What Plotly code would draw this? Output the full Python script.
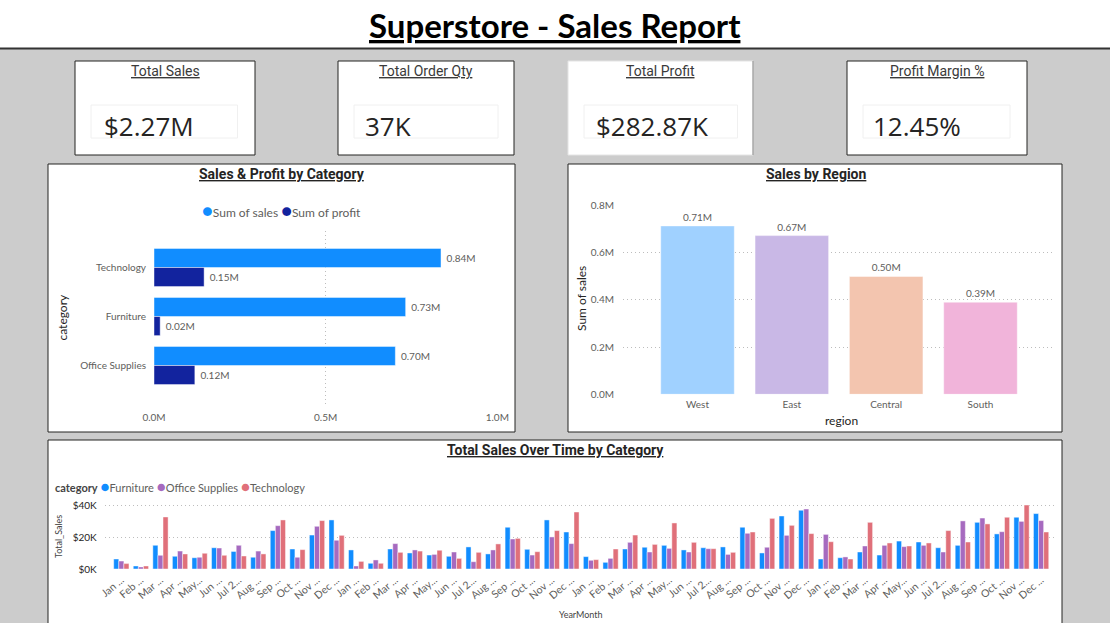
import plotly.graph_objects as go

W, H = 1110, 623

# ---------------- data ----------------
kpi_titles = ["Total Sales", "Total Order Qty", "Total Profit", "Profit Margin %"]
kpi_values = ["$2.27M", "37K", "$282.87K", "12.45%"]

categories = ["Technology", "Furniture", "Office Supplies"]
cat_sales = [836000, 733000, 703000]
cat_profit = [146000, 18000, 119000]

regions = ["West", "East", "Central", "South"]
region_sales = [713000, 672000, 499000, 390000]

cat_xticks = [0, 500000, 1000000]
cat_xticktext = ["0.0M", "0.5M", "1.0M"]
reg_yticks = [0, 200000, 400000, 600000, 800000]
reg_yticktext = ["0.0M", "0.2M", "0.4M", "0.6M", "0.8M"]

months = ["Jan", "Feb", "Mar", "Apr", "May", "Jun", "Jul", "Aug", "Sep", "Oct", "Nov", "Dec"]
month_ticks = ["Jan ...", "Feb ...", "Mar ...", "Apr ...", "May...", "Jun ...",
               "Jul 2...", "Aug ...", "Sep ...", "Oct ...", "Nov ...", "Dec ..."]
years = [2014, 2015, 2016, 2017]

# monthly sales in $K
furniture_k = [6.3, 1.9, 14.9, 8.0, 7.1, 13.4, 11.1, 7.4, 24.2, 12.6, 21.4, 30.9,
               12.0, 3.6, 12.6, 10.1, 8.8, 8.0, 13.9, 9.5, 26.3, 12.4, 30.9, 23.3,
               7.8, 4.2, 12.6, 13.7, 14.9, 12.0, 13.4, 13.9, 26.3, 10.1, 33.4, 37.0,
               6.3, 7.1, 10.7, 8.8, 17.6, 17.0, 13.4, 14.9, 29.4, 22.1, 32.6, 34.9]
office_k = [5.0, 1.3, 8.6, 11.3, 7.4, 13.2, 14.9, 11.3, 27.3, 7.4, 26.9, 18.1,
            1.9, 5.7, 16.0, 12.0, 9.2, 10.7, 4.6, 12.0, 18.9, 8.8, 20.2, 16.0,
            5.5, 6.7, 16.8, 10.7, 13.0, 10.7, 12.8, 9.2, 22.5, 13.7, 21.2, 37.8,
            21.8, 7.6, 14.5, 14.9, 14.1, 14.9, 10.7, 30.3, 32.1, 23.5, 30.0, 30.5]
tech_k = [3.4, 1.9, 32.8, 9.5, 9.9, 8.6, 8.2, 9.5, 30.9, 12.2, 30.5, 21.2,
          4.8, 3.6, 10.5, 11.3, 11.8, 6.7, 10.5, 15.8, 19.3, 10.9, 24.2, 35.9,
          5.9, 12.6, 21.4, 15.5, 29.0, 16.8, 12.8, 10.5, 23.3, 31.9, 27.5, 22.3,
          17.2, 6.3, 29.4, 16.4, 14.5, 16.4, 24.2, 17.0, 28.4, 32.6, 40.3, 23.3]
time_yticks = [0, 20, 40]
time_yticktext = ["$0K", "$20K", "$40K"]

year_month = [f"{m} {y}" for y in years for m in months]
year_month_ticks = [t for y in years for t in month_ticks]

# ---------------- styles ----------------
C_SALES = "#118DFF"
C_PROFIT = "#12239E"
C_FURN = "#118DFF"
C_OFF = "#A66ABF"
C_TECH = "#E0707A"
REGION_COLORS = ["#A0D1FF", "#C9B8E6", "#F3C5AF", "#F1B4DA"]
GREY_TXT = "#605E5C"
DARK_TXT = "#252423"
SEGOE = "Segoe UI, Lato, sans-serif"
DIN = "DIN, Roboto, sans-serif"
GRID = "#BDBDBD"
GRID_DASH = "1px,3px"
EDGE = "rgba(255,255,255,0.45)"


def X(p):
    return p / W


def Y(p):
    return 1 - p / H


def fmt_m(v):
    return f"{v / 1e6:.2f}M"


fig = go.Figure()

# Sales & Profit by Category
fig.add_trace(go.Bar(y=categories, x=cat_sales, orientation="h", name="Sum of sales",
                     marker=dict(color=C_SALES, line=dict(color=EDGE, width=1)),
                     text=[" " + fmt_m(v) for v in cat_sales], textposition="outside",
                     textfont=dict(size=10, color=GREY_TXT, family=SEGOE),
                     cliponaxis=False, constraintext="none",
                     xaxis="x", yaxis="y", showlegend=False))
fig.add_trace(go.Bar(y=categories, x=cat_profit, orientation="h", name="Sum of profit",
                     marker=dict(color=C_PROFIT, line=dict(color=EDGE, width=1)),
                     text=[" " + fmt_m(v) for v in cat_profit], textposition="outside",
                     textfont=dict(size=10, color=GREY_TXT, family=SEGOE),
                     cliponaxis=False, constraintext="none",
                     xaxis="x", yaxis="y", showlegend=False))

# Sales by Region
fig.add_trace(go.Bar(x=regions, y=region_sales, name="Sum of sales",
                     marker=dict(color=REGION_COLORS, line=dict(color=EDGE, width=1)),
                     text=[fmt_m(v) for v in region_sales], textposition="outside",
                     textfont=dict(size=10, color=GREY_TXT, family=SEGOE),
                     cliponaxis=False, constraintext="none",
                     xaxis="x2", yaxis="y2", showlegend=False))

# Total Sales Over Time by Category
for name, vals, col in [("Furniture", furniture_k, C_FURN),
                        ("Office Supplies", office_k, C_OFF),
                        ("Technology", tech_k, C_TECH)]:
    fig.add_trace(go.Bar(x=year_month, y=vals, name=name,
                         marker=dict(color=col, line=dict(color=EDGE, width=1)),
                         xaxis="x3", yaxis="y3", showlegend=False))

tickfont = dict(size=10, color=GREY_TXT, family=SEGOE)
common = dict(automargin=False, fixedrange=True, zeroline=False, showline=False)

fig.update_layout(
    width=W, height=H, autosize=False,
    margin=dict(l=0, r=0, t=0, b=0, pad=0, autoexpand=False),
    paper_bgcolor="#CCCCCC", plot_bgcolor="rgba(0,0,0,0)",
    barmode="group", bargap=0.22, bargroupgap=0,
    showlegend=False,
    xaxis=dict(domain=[X(154), X(498)], anchor="y", range=[0, 1.0e6 * 1.002],
               tickvals=cat_xticks, ticktext=cat_xticktext, tickfont=tickfont,
               showgrid=True, gridcolor=GRID, griddash=GRID_DASH, gridwidth=1,
               ticklabelstandoff=5, **common),
    yaxis=dict(domain=[Y(405), Y(231)], anchor="x", type="category",
               range=[2.806, -0.745], tickfont=tickfont, showgrid=False,
               ticklabelstandoff=7, **common),
    xaxis2=dict(domain=[X(623), X(1055)], anchor="y2", type="category",
                range=[-0.79, 3.79], tickfont=tickfont, showgrid=False,
                ticklabelstandoff=3, **common),
    yaxis2=dict(domain=[Y(394.3), Y(205)], anchor="x2", range=[0, 8.0e5 * 1.002],
                tickvals=reg_yticks, ticktext=reg_yticktext, tickfont=tickfont,
                showgrid=True, gridcolor=GRID, griddash=GRID_DASH, gridwidth=1,
                ticklabelstandoff=8, **common),
    xaxis3=dict(domain=[X(104.7), X(1055)], anchor="y3", type="category",
                range=[-0.85, 47.71], tickvals=year_month, ticktext=year_month_ticks,
                tickangle=-40, tickfont=dict(size=10.5, color=GREY_TXT, family=SEGOE),
                showgrid=False, ticklabelstandoff=2, **common),
    yaxis3=dict(domain=[Y(569), Y(569 - 41 * 1.5875)], anchor="x3", range=[0, 41],
                tickvals=time_yticks, ticktext=time_yticktext,
                tickfont=dict(size=10, color=DARK_TXT, family=SEGOE),
                showgrid=True, gridcolor=GRID, griddash=GRID_DASH, gridwidth=1,
                ticklabelstandoff=7, **common),
)

shapes = []


def rect(x0, y0, x1, y1, fill="white", line="#252423", lw=1):
    shapes.append(dict(type="rect", xref="paper", yref="paper", layer="below",
                       x0=X(x0), x1=X(x1), y0=Y(y1), y1=Y(y0),
                       fillcolor=fill, line=dict(color=line, width=lw)))


def hline(x0, x1, y, color, lw):
    shapes.append(dict(type="line", xref="paper", yref="paper", layer="below",
                       x0=X(x0), x1=X(x1), y0=Y(y), y1=Y(y), line=dict(color=color, width=lw)))


def vline(x, y0, y1, color, lw):
    shapes.append(dict(type="line", xref="paper", yref="paper", layer="below",
                       x0=X(x), x1=X(x), y0=Y(y0), y1=Y(y1), line=dict(color=color, width=lw)))


# header
rect(0, 0, W, 48, fill="white", line="white", lw=0)
hline(0, W, 48.5, "#333333", 2)

# KPI cards
card_x = [(75, 255), (338, 514), (568, 753), (847, 1027)]
inner_x = [(91, 237.5), (354, 498), (584, 737.5), (863, 1010)]
value_x = [103.6, 365, 596, 873]
for i, ((a, b), (ia, ib)) in enumerate(zip(card_x, inner_x)):
    if i == 2:
        rect(a, 61, b, 155, fill="white", line="#E4E4E4", lw=1)
        vline(b, 61, 155, "#8A8A8A", 1)
    else:
        rect(a, 61, b, 155, fill="white", line="#252423", lw=1)
    rect(ia, 105, ib, 138, fill="white", line="#F0F0F0", lw=1)

# chart panels
rect(48, 164, 515, 432)
rect(568, 164, 1062, 432)
rect(48, 440, 1062, 660)

fig.update_layout(shapes=shapes)

ann = []


def text(x, y, s, size, color=DARK_TXT, family=SEGOE, xanchor="center", angle=0):
    ann.append(dict(x=X(x), y=Y(y), xref="paper", yref="paper", text=s, showarrow=False,
                    xanchor=xanchor, yanchor="middle", textangle=angle,
                    font=dict(size=size, color=color, family=family)))


# main title
text(555, 25, "<b><u>Superstore - Sales Report</u></b>", 33, color="#000000",
     family="Segoe UI, Lato, sans-serif")

# KPI texts
for (a, b), vx, t, v in zip(card_x, value_x, kpi_titles, kpi_values):
    text((a + b) / 2, 71.5, f"<u>{t}</u>", 14, color="#3A3A3A", family=DIN)
    text(vx - 2, 125.5, v, 26, color=DARK_TXT, family="Segoe UI, Open Sans, sans-serif",
         xanchor="left")

# chart titles
text(282, 174, "<b><u>Sales &amp; Profit by Category</u></b>", 14, color=DARK_TXT, family=DIN)
text(816, 174, "<b><u>Sales by Region</u></b>", 14, color=DARK_TXT, family=DIN)
text(555, 450, "<b><u>Total Sales Over Time by Category</u></b>", 14, color=DARK_TXT, family=DIN)

# legends
dot = '<span style="color:{c};font-size:18px">●</span>'
text(281, 210, dot.format(c=C_SALES) + "Sum of sales " + dot.format(c=C_PROFIT) + "Sum of profit",
     12, color=GREY_TXT)
dot2 = '<span style="color:{c};font-size:15px">●</span>'
text(53, 486, '<b><span style="color:#444444">category</span></b> '
     + dot2.format(c=C_FURN) + "Furniture " + dot2.format(c=C_OFF) + "Office Supplies "
     + dot2.format(c=C_TECH) + "Technology", 11, color=GREY_TXT, xanchor="left")

# axis titles
text(61.5, 317, "category", 12, color=DARK_TXT, angle=-90)
text(581, 299, "Sum of sales", 12, color=DARK_TXT, angle=-90)
text(841, 420, "region", 12, color=DARK_TXT)
text(58, 537, "Total_Sales", 9, color="#444444", angle=-90)
text(581, 614, "YearMonth", 9, color="#444444")

fig.update_layout(annotations=ann)

fig.write_html("out.html",
               post_script="document.body.style.margin='0';document.body.style.overflow='hidden';")
